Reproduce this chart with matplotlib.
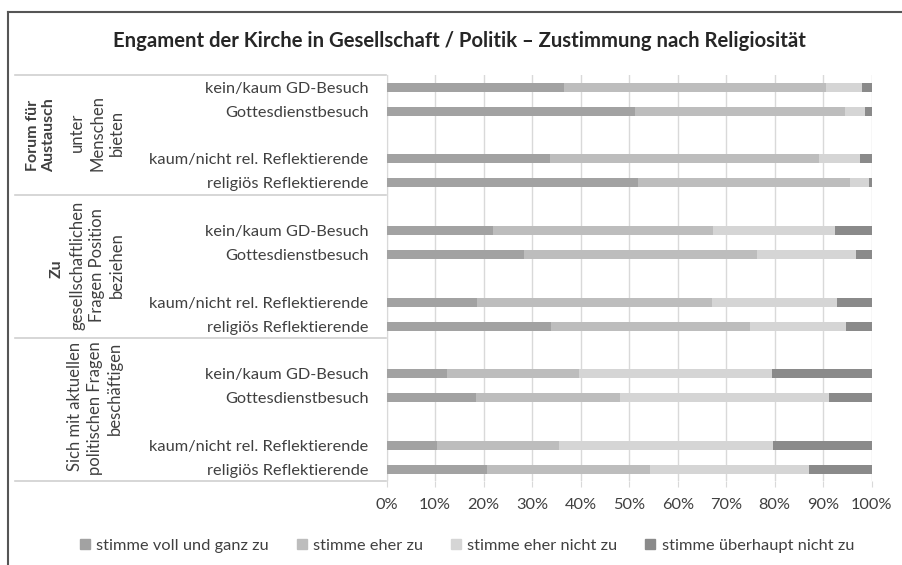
import numpy as np
import matplotlib.pyplot as plt
from matplotlib.patches import Patch
from matplotlib.lines import Line2D
import matplotlib.transforms as mtransforms

plt.rcParams['font.family'] = ['Lato', 'DejaVu Sans']

title = "Engament der Kirche in Gesellschaft / Politik – Zustimmung nach Religiosität"
series_names = ["stimme voll und ganz zu", "stimme eher zu",
                "stimme eher nicht zu", "stimme überhaupt nicht zu"]
row_labels = ["kein/kaum GD-Besuch", "Gottesdienstbesuch",
              "kaum/nicht rel. Reflektierende", "religiös Reflektierende"] * 3
# slot of each row (empty slots between sub-groups, like the Excel chart)
row_slots = [0, 1, 3, 4, 6, 7, 9, 10, 12, 13, 15, 16]
group_bounds = [-0.5, 4.5, 10.5, 16.5]

voll = [36.6, 51.1, 33.7, 51.8, 21.9, 28.3, 18.6, 33.9, 12.5, 18.4, 10.4, 20.6]
eher = [53.9, 43.4, 55.5, 43.7, 45.3, 48.1, 48.4, 41.0, 27.2, 29.7, 25.1, 33.7]
eher_nicht = [7.4, 4.1, 8.3, 4.0, 25.3, 20.3, 25.9, 19.8, 39.7, 43.0, 44.2, 32.8]
gar_nicht = [2.1, 1.4, 2.5, 0.5, 7.5, 3.3, 7.1, 5.3, 20.6, 8.9, 20.3, 12.9]

colors = ['#a2a2a2', '#bdbdbd', '#d5d5d5', '#8a8a8a']
txt_col = '#404040'

fig = plt.figure(figsize=(9.02, 5.65), dpi=100)
W, H = 902, 565
ax = fig.add_axes([386.7 / W, 1 - 481.2 / H, (871.7 - 386.7) / W, (481.2 - 75.4) / H])

left = np.zeros(len(voll))
for vals, col, name in zip([voll, eher, eher_nicht, gar_nicht], colors, series_names):
    ax.barh(row_slots, vals, left=left, height=0.38, color=col, label=name, zorder=3)
    left = left + np.array(vals)

ax.set_xlim(0, 100)
ax.set_ylim(16.5, -0.5)
ax.set_xticks(np.arange(0, 101, 10))
ax.set_xticklabels(["%d%%" % v for v in range(0, 101, 10)])
ax.set_yticks(row_slots)
ax.set_yticklabels(row_labels)
ax.grid(axis='x', color='#d9d9d9', lw=1, zorder=0)
ax.tick_params(axis='x', length=4, color='#d9d9d9', labelsize=11.8,
               labelcolor=txt_col, pad=8)
ax.tick_params(axis='y', length=0, labelsize=11.8, labelcolor=txt_col, pad=13)
for s in ['top', 'right', 'bottom']:
    ax.spines[s].set_visible(False)
ax.spines['left'].set_color('#d9d9d9')

# group separators on the left
tr = mtransforms.blended_transform_factory(fig.transFigure, ax.transData)
for b in group_bounds:
    fig.add_artist(Line2D([15 / W, 386 / W], [b, b], transform=tr,
                          color='#d0d0d0', lw=1.2))

# group labels (rotated)
fig.text(41 / W, 2.0, "Forum für\nAustausch", rotation=90, ha='center', va='center',
         fontsize=11.5, fontweight='bold', color=txt_col, transform=tr, linespacing=1.25)
fig.text(97 / W, 1.9, "unter\nMenschen\nbieten", rotation=90, ha='center', va='center',
         fontsize=12, color=txt_col, transform=tr, linespacing=1.3)
fig.text(57 / W, 7.6, "Zu", rotation=90, ha='center', va='center',
         fontsize=11.5, fontweight='bold', color=txt_col, transform=tr)
fig.text(97 / W, 7.45, "gesellschaftlichen\nFragen Position\nbeziehen", rotation=90,
         ha='center', va='center', fontsize=12, color=txt_col, transform=tr,
         linespacing=1.3)
fig.text(95 / W, 13.45, "Sich mit aktuellen\npolitischen Fragen\nbeschäftigen", rotation=90,
         ha='center', va='center', multialignment='right', fontsize=12,
         color=txt_col, transform=tr, linespacing=1.3)

fig.text(459 / W, 1 - 41 / H, title, ha='center', va='center', fontsize=14.6,
         fontweight='bold', color='#262626')

handles = [Patch(color=c) for c in colors]
fig.legend(handles, series_names, loc='center', bbox_to_anchor=(467 / W, 1 - 546 / H),
           ncol=4, frameon=False, fontsize=11.8, handlelength=0.6, handleheight=0.6,
           handletextpad=0.4, columnspacing=1.7, labelcolor=txt_col)

# outer chart frame (cropped)
fig.add_artist(Line2D([8 / W, 1], [1 - 12 / H, 1 - 12 / H], transform=fig.transFigure,
                      color='#555555', lw=1.5))
fig.add_artist(Line2D([8 / W, 8 / W], [0, 1 - 12 / H], transform=fig.transFigure,
                      color='#555555', lw=1.5))

fig.savefig('out.png', dpi=100)
